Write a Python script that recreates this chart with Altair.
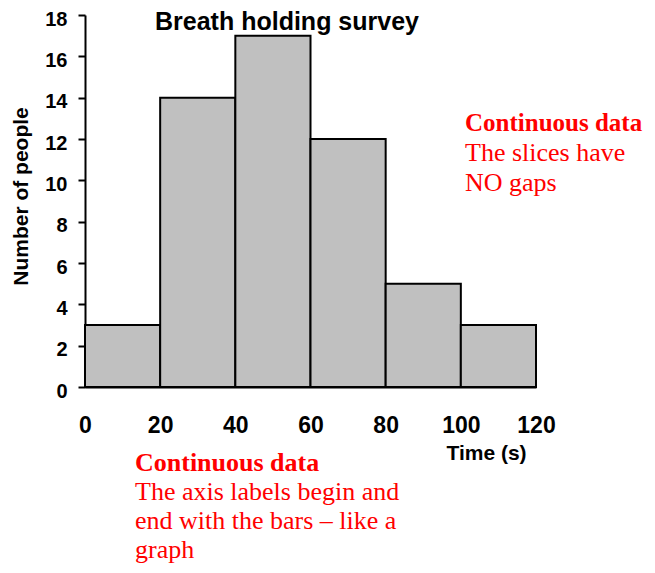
import altair as alt
import pandas as pd

# Data
bin_start = [0, 20, 40, 60, 80, 100]
bin_end = [20, 40, 60, 80, 100, 120]
counts = [3, 14, 17, 12, 5, 3]

title_text = "Breath holding survey"
x_title = "Time (s)"
y_title = "Number of people"

note1_head = "Continuous data"
note1_body = ["The slices have", "NO gaps"]
note2_head = "Continuous data"
note2_body = ["The axis labels begin and", "end with the bars \u2013 like a", "graph"]

df = pd.DataFrame({"start": bin_start, "end": bin_end, "count": counts})
one = pd.DataFrame({"k": [0]})

SANS = "Liberation Sans"
SERIF = "Liberation Serif"
RED = "#FF0000"

bars = alt.Chart(df).mark_bar(
    fill="#C0C0C0", stroke="black", strokeWidth=2
).encode(
    x=alt.X(
        "start:Q",
        scale=alt.Scale(domain=[0, 120], nice=False),
        axis=alt.Axis(
            values=[0, 20, 40, 60, 80, 100, 120],
            ticks=False,
            grid=False,
            domain=True,
            domainColor="black",
            domainWidth=2,
            labelFont=SANS,
            labelFontSize=23,
            labelFontWeight="bold",
            labelColor="black",
            labelPadding=27,
            labelFlush=False,
            title=x_title,
            titleFont=SANS,
            titleFontSize=21,
            titleFontWeight="bold",
            titleColor="black",
            titleX=401,
            titleY=72,
            titleAlign="center",
            titleBaseline="alphabetic",
        ),
    ),
    x2="end:Q",
    y=alt.Y(
        "count:Q",
        scale=alt.Scale(domain=[0, 18], nice=False),
        axis=alt.Axis(
            values=list(range(0, 19, 2)),
            grid=False,
            domainColor="black",
            domainWidth=2,
            tickColor="black",
            tickWidth=2,
            tickSize=7,
            labelFont=SANS,
            labelFontSize=20,
            labelFontWeight="bold",
            labelColor="black",
            labelPadding=11,
            labelOffset=4,
            title=y_title,
            titleFont=SANS,
            titleFontSize=21,
            titleFontWeight="bold",
            titleColor="black",
            titleAngle=270,
            titleX=-58,
            titleY=181,
            titleAlign="center",
            titleBaseline="alphabetic",
        ),
    ),
    y2=alt.datum(0),
)

title = alt.Chart(one).mark_text(
    text=title_text, font=SANS, fontSize=25, fontWeight="bold",
    color="black", align="center", baseline="alphabetic"
).encode(x=alt.value(202), y=alt.value(15))

n1h = alt.Chart(one).mark_text(
    text=note1_head, font=SERIF, fontSize=25, fontWeight="bold",
    color=RED, align="left", baseline="alphabetic"
).encode(x=alt.value(380), y=alt.value(116))

n1b = alt.Chart(one).mark_text(
    text=note1_body, font=SERIF, fontSize=26, lineHeight=30,
    color=RED, align="left", baseline="alphabetic"
).encode(x=alt.value(380), y=alt.value(146))

n2h = alt.Chart(one).mark_text(
    text=note2_head, font=SERIF, fontSize=26, fontWeight="bold",
    color=RED, align="left", baseline="alphabetic"
).encode(x=alt.value(50), y=alt.value(456))

n2b = alt.Chart(one).mark_text(
    text=note2_body, font=SERIF, fontSize=26, lineHeight=29,
    color=RED, align="left", baseline="alphabetic"
).encode(x=alt.value(50), y=alt.value(485))

chart = alt.layer(bars, title, n1h, n1b, n2h, n2b).properties(
    width=451,
    height=372,
    background="white",
    autosize=alt.AutoSizeParams(type="none"),
    padding={"left": 77, "top": 7, "right": 111, "bottom": 178},
).configure_view(stroke=None)

chart.save("out.html", embed_options={"renderer": "svg", "actions": False})
